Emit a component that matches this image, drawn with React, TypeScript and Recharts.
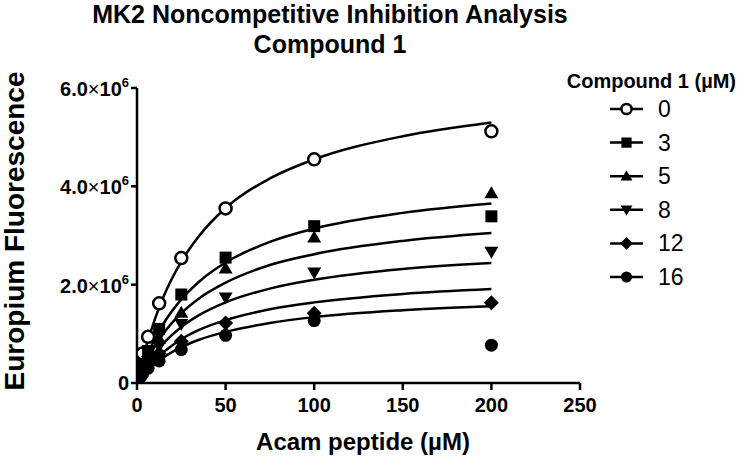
import React from 'react';
import { ComposedChart, Line, Scatter, XAxis, YAxis } from 'recharts';

const concentrations = ['0', '3', '5', '8', '12', '16'];
const markerKinds = ['openCircle', 'square', 'triangle', 'invTriangle', 'diamond', 'circle'];

// Acam peptide concentrations (µM) of the measured points
const peptide = [0.78, 1.56, 3.125, 6.25, 12.5, 25, 50, 100, 200];
// Europium fluorescence, in units of 10^6
const signal0 = [0.12, 0.3, 0.6, 0.94, 1.62, 2.54, 3.55, 4.55, 5.12];
const signal3 = [0.08, 0.2, 0.38, 0.65, 1.1, 1.8, 2.55, 3.19, 3.39];
const signal5 = [0.07, 0.17, 0.32, 0.52, 0.9, 1.43, 2.33, 2.96, 3.86];
const signal8 = [0.06, 0.14, 0.27, 0.45, 0.75, 1.2, 1.74, 2.25, 2.67];
const signal12 = [0.05, 0.12, 0.22, 0.37, 0.6, 0.85, 1.22, 1.42, 1.63];
const signal16 = [0.04, 0.1, 0.18, 0.3, 0.45, 0.68, 0.97, 1.27, 0.77];

// fitted curves
const fitX = [0, 2, 5, 10, 15, 25, 35, 50, 75, 100, 150, 200];
const fit0 = [0, 0.31, 0.72, 1.29, 1.76, 2.47, 2.99, 3.56, 4.16, 4.55, 5.02, 5.3];
const fit3 = [0, 0.21, 0.5, 0.89, 1.21, 1.7, 2.06, 2.45, 2.87, 3.14, 3.46, 3.65];
const fit5 = [0, 0.18, 0.41, 0.74, 1.01, 1.42, 1.72, 2.04, 2.4, 2.62, 2.89, 3.05];
const fit8 = [0, 0.14, 0.33, 0.6, 0.81, 1.14, 1.38, 1.64, 1.92, 2.1, 2.32, 2.44];
const fit12 = [0, 0.11, 0.26, 0.47, 0.63, 0.89, 1.08, 1.28, 1.5, 1.64, 1.81, 1.91];
const fit16 = [0, 0.09, 0.21, 0.38, 0.52, 0.73, 0.88, 1.04, 1.22, 1.34, 1.48, 1.56];

const xTicks = [0, 50, 100, 150, 200, 250];
const yTicks = [0, 2, 4, 6];

const signals = [signal0, signal3, signal5, signal8, signal12, signal16];
const fits = [fit0, fit3, fit5, fit8, fit12, fit16];

const FONT = '"Liberation Sans", Arial, Helvetica, sans-serif';

const Marker = ({ kind, cx, cy, s = 1 }: { kind: string; cx: number; cy: number; s?: number }) => {
  switch (kind) {
    case 'openCircle':
      return <circle cx={cx} cy={cy} r={6 * s} fill="#fff" stroke="#000" strokeWidth={2.5} />;
    case 'circle':
      return <circle cx={cx} cy={cy} r={6.5 * s} fill="#000" />;
    case 'square':
      return <rect x={cx - 6 * s} y={cy - 6 * s} width={12 * s} height={12 * s} fill="#000" />;
    case 'triangle':
      return (
        <polygon
          points={`${cx},${cy - 7 * s} ${cx + 7 * s},${cy + 5 * s} ${cx - 7 * s},${cy + 5 * s}`}
          fill="#000"
        />
      );
    case 'invTriangle':
      return (
        <polygon
          points={`${cx},${cy + 7 * s} ${cx + 7 * s},${cy - 5 * s} ${cx - 7 * s},${cy - 5 * s}`}
          fill="#000"
        />
      );
    case 'diamond':
      return (
        <polygon
          points={`${cx},${cy - 7.5 * s} ${cx + 7.5 * s},${cy} ${cx},${cy + 7.5 * s} ${cx - 7.5 * s},${cy}`}
          fill="#000"
        />
      );
    default:
      return null;
  }
};

const YTick = (props: any) => {
  const { x, y, payload } = props;
  const v = payload.value;
  if (v === 0) {
    return (
      <text x={x} y={y} dy={7} textAnchor="end" fontFamily={FONT} fontWeight="bold" fontSize={20} fill="#000">
        0
      </text>
    );
  }
  return (
    <text x={x} y={y} dy={8} textAnchor="end" fontFamily={FONT} fontWeight="bold" fontSize={20} fill="#000">
      <tspan>{v.toFixed(1)}</tspan>
      <tspan fontWeight="normal">×</tspan>
      <tspan>10</tspan>
      <tspan dy={-9} fontSize={13}>6</tspan>
    </text>
  );
};

export default function App() {
  const pointData = signals.map((s) => peptide.map((x, i) => ({ x, y: s[i] })));
  const fitData = fits.map((f) => fitX.map((x, i) => ({ x, y: f[i] })));

  return (
    <div style={{ position: 'absolute', left: 0, top: 0, width: 737, height: 457, background: '#fff' }}>
      <ComposedChart width={737} height={457} margin={{ top: 88, right: 157, bottom: 44, left: 77 }}>
        <XAxis
          type="number"
          dataKey="x"
          domain={[0, 250]}
          ticks={xTicks}
          height={30}
          stroke="#000"
          strokeWidth={2.5}
          tickSize={7}
          tickMargin={8}
          tick={{ fill: '#000', fontSize: 20, fontWeight: 'bold', fontFamily: FONT }}
          allowDataOverflow
        />
        <YAxis
          type="number"
          domain={[0, 6]}
          ticks={yTicks}
          width={60}
          stroke="#000"
          strokeWidth={2.5}
          tickSize={6}
          tickMargin={2}
          tick={<YTick />}
          allowDataOverflow
        />
        {fitData.map((d, i) => (
          <Line
            key={'fit' + i}
            data={d}
            dataKey="y"
            type="monotone"
            stroke="#000"
            strokeWidth={2.5}
            dot={false}
            activeDot={false}
            isAnimationActive={false}
          />
        ))}
        {pointData.map((d, i) => (
          <Scatter
            key={'pts' + i}
            data={d}
            dataKey="y"
            isAnimationActive={false}
            shape={(p: any) => <Marker kind={markerKinds[i]} cx={p.cx} cy={p.cy} />}
          />
        ))}
      </ComposedChart>
      <svg
        width={737}
        height={457}
        style={{ position: 'absolute', left: 0, top: 0, pointerEvents: 'none' }}
        fontFamily={FONT}
      >
        <text x={330} y={23} textAnchor="middle" fontWeight="bold" fontSize={25}>
          MK2 Noncompetitive Inhibition Analysis
        </text>
        <text x={330} y={53} textAnchor="middle" fontWeight="bold" fontSize={25}>
          Compound 1
        </text>
        <text
          x={24}
          y={231}
          textAnchor="middle"
          fontWeight="bold"
          fontSize={28}
          transform="rotate(-90 24 231)"
        >
          Europium Fluorescence
        </text>
        <text x={363} y={450} textAnchor="middle" fontWeight="bold" fontSize={24}>
          Acam peptide (µM)
        </text>
        <text x={736} y={88} textAnchor="end" fontWeight="bold" fontSize={20}>
          Compound 1 (µM)
        </text>
        {concentrations.map((c, i) => {
          const cy = 109 + i * 33.6;
          return (
            <g key={c}>
              <line x1={610} x2={643} y1={cy} y2={cy} stroke="#000" strokeWidth={2.5} />
              <Marker kind={markerKinds[i]} cx={626.5} cy={cy} s={0.85} />
              <text x={658} y={cy + 8} fontSize={23}>
                {c}
              </text>
            </g>
          );
        })}
      </svg>
    </div>
  );
}
